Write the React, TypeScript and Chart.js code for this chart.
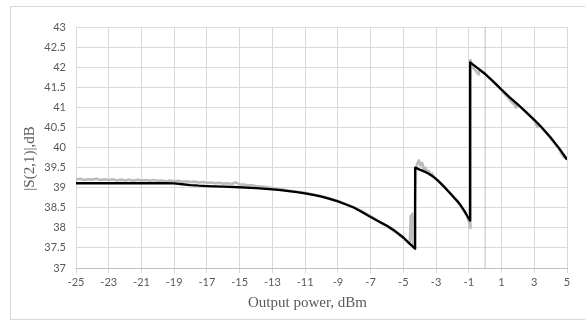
import React, { useEffect, useRef } from "react";
import { Chart, registerables } from "chart.js";

Chart.register(...registerables);

const xTitle = "Output power, dBm";
const yTitle = "|S(2,1)|,dB";
const xTickValues = [-25, -23, -21, -19, -17, -15, -13, -11, -9, -7, -5, -3, -1, 1, 3, 5];
const yMin = 37;
const yMax = 43;
const yStep = 0.5;
const markerLinePower = 0;

// measured |S21| (gray) as [power dBm, gain dB]
const measured: [number, number][] = [
  [-25, 39.2], [-24.75, 39.22], [-24.5, 39.19], [-24.25, 39.21], [-24, 39.2], [-23.75, 39.22],
  [-23.5, 39.19], [-23.25, 39.21], [-23, 39.19], [-22.75, 39.21], [-22.5, 39.18], [-22.25, 39.2],
  [-22, 39.18], [-21.75, 39.2], [-21.5, 39.17], [-21.25, 39.2], [-21, 39.18], [-20.75, 39.19],
  [-20.5, 39.17], [-20.25, 39.19], [-20, 39.17], [-19.75, 39.18], [-19.5, 39.16], [-19.25, 39.18],
  [-19, 39.16], [-18.75, 39.17], [-18.5, 39.15], [-18.25, 39.16], [-18, 39.14], [-17.75, 39.15],
  [-17.5, 39.13], [-17.25, 39.14], [-17, 39.12], [-16.75, 39.13], [-16.5, 39.11], [-16.25, 39.12],
  [-16, 39.1], [-15.75, 39.11], [-15.5, 39.09], [-15.25, 39.13], [-15, 39.08], [-14.75, 39.08],
  [-14.5, 39.06], [-14.25, 39.06], [-14, 39.04], [-13.5, 39.02], [-13, 38.99], [-12.5, 38.96],
  [-12, 38.93], [-11.5, 38.9], [-11, 38.87], [-10.5, 38.83], [-10, 38.79], [-9.5, 38.73],
  [-9, 38.67], [-8.5, 38.59], [-8, 38.51], [-7.5, 38.4], [-7, 38.29], [-6.5, 38.16],
  [-6, 38.04], [-5.5, 37.9], [-5, 37.74], [-4.75, 37.65], [-4.6, 37.6], [-4.55, 38.3],
  [-4.5, 37.75], [-4.45, 38.35], [-4.4, 37.58], [-4.3, 37.5], [-4.28, 38.7], [-4.22, 39.45],
  [-4.15, 39.6], [-4.05, 39.68], [-3.95, 39.55], [-3.85, 39.62], [-3.75, 39.45], [-3.65, 39.5],
  [-3.55, 39.38], [-3.45, 39.42], [-3.35, 39.32], [-3.25, 39.35], [-3.1, 39.25], [-2.9, 39.18],
  [-2.7, 39.1], [-2.5, 39.02], [-2.3, 38.94], [-2.1, 38.85], [-1.9, 38.77], [-1.7, 38.68],
  [-1.5, 38.55], [-1.3, 38.42], [-1.1, 38.28], [-0.95, 38.1], [-0.92, 38.0], [-0.9, 42.18],
  [-0.8, 42.02], [-0.6, 41.92], [-0.4, 41.82], [-0.35, 41.93], [-0.1, 41.87], [0.2, 41.75],
  [0.5, 41.64], [0.8, 41.52], [1.0, 41.43], [1.2, 41.33], [1.4, 41.24], [1.6, 41.14],
  [1.8, 41.06], [1.9, 40.99], [1.95, 41.1], [2.1, 41.03], [2.4, 40.92], [2.7, 40.8],
  [2.9, 40.72], [3.1, 40.6], [3.2, 40.51], [3.25, 40.6], [3.5, 40.47], [3.8, 40.33],
  [4.0, 40.23], [4.3, 40.07], [4.5, 39.97], [4.65, 39.86], [4.8, 39.76], [4.85, 39.8],
  [4.95, 39.72], [5, 39.7],
];

// model |S21| (black) as [power dBm, gain dB]
const model: [number, number][] = [
  [-25, 39.11], [-19.5, 39.11], [-19, 39.105], [-18.5, 39.085], [-18, 39.065], [-17.5, 39.05],
  [-17, 39.04], [-16, 39.025], [-15, 39.01], [-14, 38.99], [-13, 38.96], [-12.5, 38.94],
  [-12, 38.915], [-11.5, 38.89], [-11, 38.86], [-10.5, 38.82], [-10, 38.775], [-9.5, 38.72],
  [-9, 38.66], [-8.5, 38.58], [-8, 38.5], [-7.5, 38.39], [-7, 38.27], [-6.5, 38.16],
  [-6, 38.05], [-5.5, 37.92], [-5, 37.76], [-4.6, 37.6], [-4.28, 37.48],
  [-4.28, 39.5], [-4.0, 39.45], [-3.7, 39.4], [-3.5, 39.36], [-3.3, 39.31], [-3.1, 39.25],
  [-2.9, 39.18], [-2.7, 39.1], [-2.5, 39.02], [-2.3, 38.93], [-2.1, 38.84], [-1.9, 38.75],
  [-1.7, 38.66], [-1.5, 38.56], [-1.3, 38.44], [-1.1, 38.3], [-0.92, 38.18],
  [-0.92, 42.12], [-0.5, 41.99], [0, 41.83], [0.5, 41.64], [1, 41.44], [1.5, 41.25],
  [2, 41.07], [2.5, 40.88], [3, 40.69], [3.5, 40.48], [4, 40.25], [4.5, 39.99], [5, 39.7],
];

const toPoints = (arr: [number, number][]) => arr.map(([x, y]) => ({ x, y }));

const titlesPlugin = {
  id: "axisTitles",
  afterDraw(chart: any) {
    const { ctx, chartArea: a } = chart;
    ctx.save();
    ctx.font = '15px "Liberation Serif"';
    ctx.fillStyle = "#595959";
    ctx.textAlign = "center";
    ctx.textBaseline = "middle";
    ctx.fillText(xTitle, (a.left + a.right) / 2 - 14, a.bottom + 35);
    ctx.translate(30, (a.top + a.bottom) / 2 + 11);
    ctx.rotate(-Math.PI / 2);
    ctx.fillText(yTitle, 0, 0);
    ctx.restore();
  },
};

export default function App() {
  const ref = useRef<HTMLCanvasElement | null>(null);
  useEffect(() => {
    if (!ref.current) return;
    const chart = new Chart(ref.current, {
      type: "line",
      data: {
        datasets: [
          {
            label: "Model",
            data: toPoints(model),
            borderColor: "#000000",
            borderWidth: 2.3,
            pointRadius: 0,
            tension: 0,
            borderJoinStyle: "round",
          },
          {
            label: "Measured",
            data: toPoints(measured),
            borderColor: "#bcbcbc",
            borderWidth: 2.6,
            pointRadius: 0,
            tension: 0,
            borderJoinStyle: "round",
          },
          {
            label: "Axis",
            data: [
              { x: markerLinePower, y: yMin },
              { x: markerLinePower, y: yMax },
            ],
            borderColor: "#bfbfbf",
            borderWidth: 1,
            pointRadius: 0,
          },
        ],
      },
      options: {
        responsive: false,
        animation: false,
        devicePixelRatio: 1,
        layout: { padding: { left: 0, top: 27, right: 18, bottom: 0 } },
        plugins: { legend: { display: false }, tooltip: { enabled: false } },
        scales: {
          x: {
            type: "linear",
            min: xTickValues[0],
            max: xTickValues[xTickValues.length - 1],
            afterBuildTicks: (s: any) => {
              s.ticks = xTickValues.map((v) => ({ value: v }));
            },
            afterFit: (s: any) => {
              s.height = 52;
            },
            grid: { color: "#d9d9d9", lineWidth: 1, tickLength: 5, drawTicks: true },
            border: { color: "#bfbfbf", width: 1 },
            ticks: {
              color: "#595959",
              font: { family: "Lato", size: 11 },
              padding: 3,
              maxRotation: 0,
              autoSkip: false,
              callback: (v: any) => String(v),
            },
          },
          y: {
            type: "linear",
            min: yMin,
            max: yMax,
            afterFit: (s: any) => {
              s.width = 76;
            },
            grid: { color: "#d9d9d9", lineWidth: 1, drawTicks: false },
            border: { display: false },
            ticks: {
              stepSize: yStep,
              color: "#595959",
              font: { family: "Lato", size: 11 },
              padding: 10,
              callback: (v: any) => String(v),
            },
          },
        },
      },
      plugins: [titlesPlugin],
    });
    return () => chart.destroy();
  }, []);
  return (
    <div style={{ position: "fixed", left: 0, top: 0, width: 585, height: 320, background: "#fff", overflow: "hidden" }}>
      <div
        style={{
          position: "absolute",
          left: 10,
          top: 6,
          width: 600,
          height: 314,
          border: "1px solid #d9d9d9",
          boxSizing: "border-box",
        }}
      />
      <canvas ref={ref} width={585} height={320} style={{ position: "absolute", left: 0, top: 0 }} />
    </div>
  );
}
